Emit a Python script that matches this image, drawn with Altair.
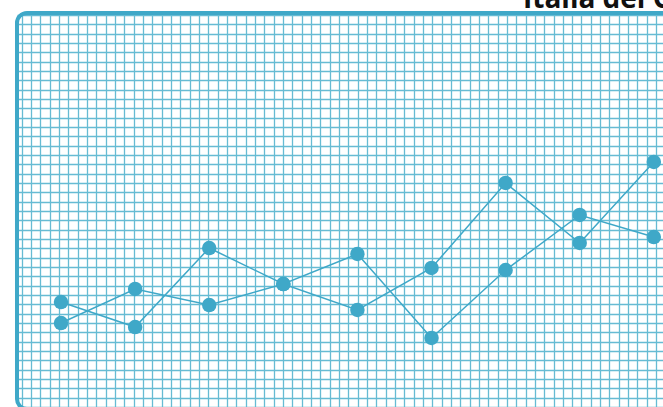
import altair as alt
import numpy as np
import pandas as pd

# --- data -----------------------------------------------------------------
steps = list(range(9))
series_a = [11.25, 8.57, 17.04, 13.18, 16.40, 7.40, 14.68, 20.58, 18.22]
series_b = [9.00, 12.65, 10.93, 13.18, 10.40, 14.90, 24.01, 17.58, 26.26]
title_text = ["Italia del C"]

df = pd.DataFrame({
    "step": steps * 2,
    "value": series_a + series_b,
    "series": ["A"] * len(steps) + ["B"] * len(steps),
})
title_df = pd.DataFrame({"t": title_text})

# --- styling ----------------------------------------------------------------
BLUE = "#3fa8c8"
GRID = "#66bbd3"
W, H = 646, 394
x_dom = [-0.594, 8.124]
y_dom = [0, 42.23]

x_grid = [round(-0.53 + 0.1259 * k, 4) for k in range(80) if -0.53 + 0.1259 * k <= x_dom[1]]
y_grid = list(range(0, 43))

grid_axis = dict(labels=False, ticks=False, domain=False, title=None,
                 gridColor=GRID, gridWidth=1.3, gridOpacity=1)

x = alt.X("step:Q", scale=alt.Scale(domain=x_dom, nice=False, zero=False),
          axis=alt.Axis(values=x_grid, **grid_axis))
y = alt.Y("value:Q", scale=alt.Scale(domain=y_dom, nice=False, zero=False),
          axis=alt.Axis(values=y_grid, **grid_axis))

base = alt.Chart(df)
lines = base.mark_line(color=BLUE, strokeWidth=1.5).encode(x=x, y=y, detail="series:N")
points = base.mark_circle(color=BLUE, size=210, opacity=1).encode(x=x, y=y)

frame = alt.Chart(title_df).mark_rect(
    filled=False, stroke=BLUE, strokeWidth=4, cornerRadius=10
).encode(x=alt.value(0), x2=alt.value(W + 60), y=alt.value(0), y2=alt.value(H + 2))

title = alt.Chart(title_df).mark_text(
    align="left", baseline="alphabetic", font="Open Sans", fontWeight="bold",
    fontSize=28, color="#111111"
).encode(x=alt.value(506), y=alt.value(-5), text="t:N")

chart = alt.layer(lines, points, frame, title).properties(
    width=W, height=H,
    padding={"left": 17, "top": 13, "right": 0, "bottom": 0},
    autosize="none",
    background="white",
).configure_view(strokeOpacity=0)

chart.save("out.html", embed_options={"renderer": "svg", "actions": False})
